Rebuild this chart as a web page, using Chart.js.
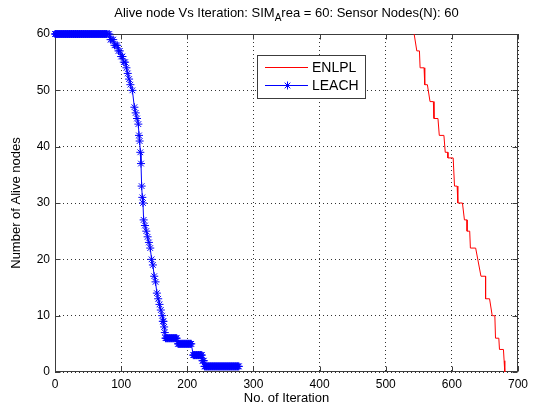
<!DOCTYPE html>
<html>
<head>
<meta charset="utf-8">
<script src="https://cdn.jsdelivr.net/npm/chart.js@4"></script>
<style>
html, body { margin: 0; padding: 0; background: #fff; }
</style>
</head>
<body>
<canvas id="aliveChart" width="536" height="407"></canvas>
<script>
// tick values
var xTicks = [0, 100, 200, 300, 400, 500, 600, 700];
var yTicks = [0, 10, 20, 30, 40, 50, 60];

// ENLPL (red) - corners of the step line
var enlplIter  = [543, 547, 551, 552, 558, 559, 563, 567, 572, 573, 579, 581, 588, 590, 594, 594, 602, 604, 608, 609,
                  616, 619, 623, 623, 627, 628, 636, 644, 651, 651, 657, 661, 665, 666, 671, 672, 678, 679, 680, 680];
var enlplAlive = [60, 57, 57, 54, 54, 51, 51, 48, 48, 45, 45, 42, 42, 39, 39, 38, 38, 33, 33, 30,
                  30, 27, 27, 25, 25, 22, 22, 17, 17, 13, 13, 10, 10, 6, 6, 4, 4, 2, 2, 0];

// LEACH (blue) - flat stretches: one point per iteration from start to end
var leachRunStart = [0, 168, 186, 209, 223, 226];
var leachRunEnd   = [78, 184, 206, 222, 225, 278];
var leachRunAlive = [60, 6, 5, 3, 2, 1];

// LEACH (blue) - the falling part
var leachIter  = [80, 82, 84, 86, 88, 90, 92, 94, 96, 98, 100, 102, 104, 106, 108, 110, 112, 114, 117, 120,
                  122, 124, 126, 127, 128, 129, 130, 131, 132, 133, 134, 136, 138, 140, 142, 144, 146, 148, 150, 152,
                  154, 156, 158, 160, 162, 163, 164, 165, 166, 167];
var leachAlive = [60, 60, 59, 59, 59, 58, 58, 58, 57, 57, 56, 56, 55, 55, 54, 53, 52, 51, 50, 47,
                  46, 45, 44, 42, 41, 39, 37, 33, 31, 30, 27, 26, 25, 24, 23, 22, 20, 19, 17, 16,
                  14, 13, 12, 11, 10, 9, 9, 8, 7, 6];

var seriesNames  = ['ENLPL', 'LEACH'];
var seriesColors = ['#ff0000', '#0000ff'];

// build point lists
var enlplPoints = enlplIter.map(function (x, i) { return { x: x, y: enlplAlive[i] }; });

var leachPoints = [];
for (var r = 0; r < leachRunStart.length; r++) {
    for (var it = leachRunStart[r]; it <= leachRunEnd[r]; it++) {
        leachPoints.push({ x: it, y: leachRunAlive[r] });
    }
}
leachIter.forEach(function (x, i) { leachPoints.push({ x: x, y: leachAlive[i] }); });
leachPoints.sort(function (a, b) { return a.x - b.x; });

var FONT = "'Liberation Sans', Arial, sans-serif";
var frameColor = '#3c3c3c';

// title with subscript A
var titlePlugin = {
    id: 'matlabTitle',
    afterDraw: function (chart) {
        var ctx = chart.ctx, ca = chart.chartArea;
        var p1 = 'Alive node Vs Iteration: SIM', sub = 'A', p2 = 'rea = 60: Sensor Nodes(N): 60';
        ctx.save();
        ctx.fillStyle = '#000';
        ctx.textBaseline = 'alphabetic';
        ctx.font = '13px ' + FONT;
        var w1 = ctx.measureText(p1).width, w3 = ctx.measureText(p2).width;
        ctx.font = '10px ' + FONT;
        var w2 = ctx.measureText(sub).width;
        var x = (ca.left + ca.right) / 2 - (w1 + w2 + w3) / 2;
        var y = 17;
        ctx.textAlign = 'left';
        ctx.font = '13px ' + FONT;
        ctx.fillText(p1, x, y);
        ctx.font = '10px ' + FONT;
        ctx.fillText(sub, x + w1, y + 4);
        ctx.font = '13px ' + FONT;
        ctx.fillText(p2, x + w1 + w2, y);
        ctx.restore();
    }
};

// box around the axes and inward tick marks
var framePlugin = {
    id: 'matlabFrame',
    beforeDatasetsDraw: function (chart) {
        var ctx = chart.ctx, ca = chart.chartArea;
        var xs = chart.scales.x, ys = chart.scales.y;
        var L = Math.round(ca.left) + 0.5, R = Math.round(ca.right) - 0.5;
        var T = Math.round(ca.top) + 0.5, B = Math.round(ca.bottom) - 0.5;
        ctx.save();
        ctx.strokeStyle = frameColor;
        ctx.lineWidth = 1;
        ctx.strokeRect(L, T, R - L, B - T);
        ctx.beginPath();
        xTicks.forEach(function (v) {
            var px = Math.round(xs.getPixelForValue(v)) + 0.5;
            ctx.moveTo(px, B); ctx.lineTo(px, B - 5);
            ctx.moveTo(px, T); ctx.lineTo(px, T + 5);
        });
        yTicks.forEach(function (v) {
            var py = Math.round(ys.getPixelForValue(v)) + 0.5;
            ctx.moveTo(L, py); ctx.lineTo(L + 5, py);
            ctx.moveTo(R, py); ctx.lineTo(R - 5, py);
        });
        ctx.stroke();
        ctx.restore();
    }
};

// legend box inside the plot
var legendPlugin = {
    id: 'matlabLegend',
    afterDatasetsDraw: function (chart) {
        var ctx = chart.ctx, ca = chart.chartArea;
        var bx = ca.left + 202, by = ca.top + 21, bw = 108, bh = 43;
        ctx.save();
        ctx.fillStyle = '#fff';
        ctx.fillRect(bx, by, bw, bh);
        ctx.strokeStyle = frameColor;
        ctx.lineWidth = 1;
        ctx.strokeRect(bx + 0.5, by + 0.5, bw, bh);
        var rows = [by + 12, by + 30];
        seriesNames.forEach(function (name, i) {
            ctx.save();
            ctx.fillStyle = seriesColors[i];
            ctx.fillRect(bx + 8, rows[i], 43, 1);
            if (i === 1) {
                ctx.strokeStyle = seriesColors[i];
                Chart.helpers.drawPoint(ctx, {
                    pointStyle: 'star', radius: 4, borderWidth: 1, rotation: 0
                }, bx + 30.5, rows[i] + 0.5);
            }
            ctx.restore();
            ctx.fillStyle = '#000';
            ctx.font = '14px ' + FONT;
            ctx.textBaseline = 'middle';
            ctx.textAlign = 'left';
            ctx.fillText(name, bx + 55, rows[i] + 1.5);
        });
        ctx.restore();
    }
};

var ctx = document.getElementById('aliveChart').getContext('2d');

var aliveChart = new Chart(ctx, {
    type: 'line',
    data: {
        datasets: [{
            label: seriesNames[0],
            data: enlplPoints,
            borderColor: seriesColors[0],
            borderWidth: 1,
            pointRadius: 0
        }, {
            label: seriesNames[1],
            data: leachPoints,
            borderColor: seriesColors[1],
            backgroundColor: seriesColors[1],
            borderWidth: 1,
            pointStyle: 'star',
            pointRadius: 4,
            pointBorderWidth: 1,
            pointBorderColor: seriesColors[1],
            clip: false
        }]
    },
    options: {
        responsive: false,
        animation: false,
        devicePixelRatio: 1,
        events: [],
        layout: { padding: { top: 34, right: 18, left: 0, bottom: 0 } },
        plugins: {
            legend: { display: false },
            tooltip: { enabled: false }
        },
        scales: {
            x: {
                type: 'linear',
                position: 'bottom',
                min: 0,
                max: 700,
                afterFit: function (scale) { scale.height = 35; },
                afterBuildTicks: function (scale) { scale.ticks = xTicks.map(function (v) { return { value: v }; }); },
                ticks: { color: '#000', padding: 5, font: { family: FONT, size: 12 }, maxRotation: 0 },
                grid: { color: '#333', lineWidth: 1, drawTicks: false },
                border: { display: false, dash: [1, 3] },
                title: { display: true, text: 'No. of Iteration', color: '#000',
                         font: { family: FONT, size: 13 }, padding: { top: 0, bottom: 1 } }
            },
            y: {
                type: 'linear',
                position: 'left',
                min: 0,
                max: 60,
                afterFit: function (scale) { scale.width = 55; },
                afterBuildTicks: function (scale) { scale.ticks = yTicks.map(function (v) { return { value: v }; }); },
                ticks: { color: '#000', padding: 5, font: { family: FONT, size: 12 } },
                grid: { color: '#333', lineWidth: 1, drawTicks: false },
                border: { display: false, dash: [1, 3] },
                title: { display: true, text: 'Number of Alive nodes', color: '#000',
                         font: { family: FONT, size: 13 }, padding: { top: 9, bottom: 0 } }
            }
        }
    },
    plugins: [framePlugin, legendPlugin, titlePlugin]
});
</script>
</body>
</html>
